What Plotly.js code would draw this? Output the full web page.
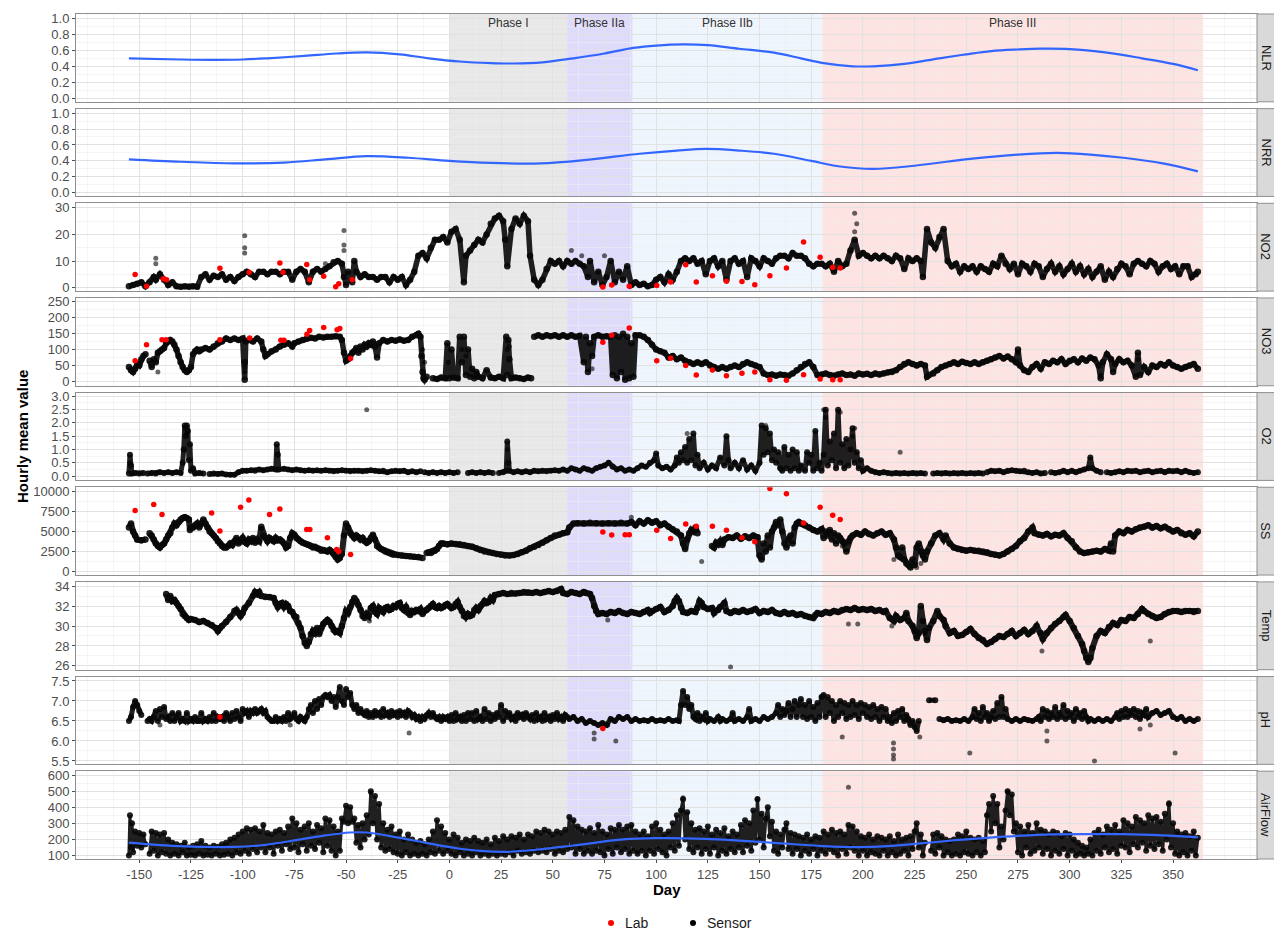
<!DOCTYPE html>
<html>
<head>
<meta charset="utf-8">
<script src="https://cdn.plot.ly/plotly-3.0.1.min.js"></script>
<style>html,body{margin:0;padding:0;background:#fff;}#chart{width:1274px;height:934px;}</style>
</head>
<body>
<div id="chart"></div>
<script>
// ---------------- DATA ----------------
const panelNames = ['NLR','NRR','NO2','NO3','O2','SS','Temp','pH','AirFlow'];
const dayTicks = [-150,-125,-100,-75,-50,-25,0,25,50,75,100,125,150,175,200,225,250,275,300,325,350];
const dayTickLabels = ['-150','-125','-100','-75','-50','-25','0','25','50','75','100','125','150','175','200','225','250','275','300','325','350'];
const phaseNames = ['Phase I','Phase IIa','Phase IIb','Phase III'];
const phaseStart = [0,57,88.5,180.5];
const phaseEnd = [57,88.5,180.5,364.5];
const legendNames = ['Lab','Sensor'];

const nlrSmooth = [[-155,0.50],[-130,0.485],[-114,0.48],[-100,0.485],[-88,0.50],[-70,0.53],[-55,0.56],[-40,0.575],[-24,0.55],[-10,0.50],[5,0.46],[20,0.44],[31,0.435],[45,0.45],[60,0.50],[75,0.56],[89,0.63],[100,0.66],[113,0.675],[125,0.665],[140,0.62],[157,0.57],[170,0.50],[181,0.44],[195,0.40],[205,0.40],[220,0.43],[237,0.50],[250,0.55],[262,0.59],[275,0.61],[286,0.62],[300,0.615],[318,0.57],[335,0.50],[350,0.43],[362,0.35]];

const nrrSmooth = [[-155,0.42],[-130,0.39],[-104,0.37],[-80,0.38],[-60,0.42],[-40,0.46],[-20,0.44],[0,0.40],[20,0.375],[44,0.37],[65,0.41],[92,0.49],[110,0.53],[124,0.55],[140,0.53],[157,0.49],[175,0.40],[189,0.33],[205,0.30],[225,0.34],[253,0.43],[275,0.48],[294,0.50],[310,0.48],[326,0.44],[345,0.37],[362,0.27]];

const no2Sensor = [[-155,0.5],[-153,1],[-151,1.5],[-149,2],[-147,0.5],[-145,2],[-143,4],[-142,3],[-140,5],[-138,3],[-136,1],[-134,2],[-132,0.5],[-130,0.3],[-128,0.5],[-126,0.3],[-124,0.5],[-122,0.3],[-120,4],[-118,5],[-116,3],[-114,4.5],[-112,4],[-110,5],[-108,3],[-106,4],[-104,2.5],[-102,4],[-100,5],[-98,6],[-96,5],[-94,4],[-92,6],[-90,6],[-88,5],[-86,6],[-84,6],[-82,5],[-80,6],[-78,6],[-76,3],[-74,6],[-72,7],[-70,6],[-68,2],[-66,6],[-64,7],[-62,6],[-60,7],[-58,8],[-56,9.5],[-54,10],[-52,9],[-51,4],[-50,1],[-49,6],[-47,2],[-46,10],[-45,6],[-43,4],[-41,5],[-39,4],[-37,4],[-35,3],[-33,4],[-31,4],[-29,2],[-27,4],[-25,3],[-23,4],[-21,1],[-19,3],[-17,6],[-15,12],[-13,13],[-11,11],[-9,15],[-7,18],[-5,18],[-3,19],[-1,17],[1,21],[3,22],[5,18],[7,2],[8,12],[10,14],[12,16],[14,18],[16,17],[18,20],[20,24],[22,26],[24,27],[26,25],[27,18],[28,8],[30,22],[32,26],[34,24],[36,27],[38,25],[39,12],[41,3],[43,1],[45,3],[47,7],[49,10],[51,9],[53,10],[55,8],[57,10],[59,9],[61,10],[63,9],[65,8],[67,4],[68,10],[70,2],[72,6],[74,1],[76,4],[78,10],[80,2],[82,6],[84,3],[86,8],[88,1],[90,2],[92,1],[94,1.5],[96,0.5],[98,1],[100,3],[102,4],[104,2],[106,5],[108,3],[110,6],[112,10],[114,11],[116,10],[118,11],[120,9],[122,10],[124,5],[126,10],[128,11],[130,8],[132,10],[134,3],[136,10],[138,11],[140,9],[142,10],[144,4],[146,11],[148,10],[150,8],[152,11],[154,10],[156,9],[158,11],[160,12],[162,12],[164,11],[166,13],[168,12],[170,12],[172,11],[174,9],[176,8],[178,9],[180,9],[182,8],[184,9],[186,6],[188,10],[190,8],[192,9],[194,14],[196,18],[198,12],[200,13],[202,12],[204,11],[206,12],[208,11],[210,12],[212,11],[214,10],[216,12],[218,11],[220,7],[222,11],[224,10],[226,11],[228,10],[229,4],[231,22],[233,17],[235,15],[237,19],[239,22],[241,10],[243,8],[245,9],[247,6],[249,8],[251,7],[253,8],[255,6],[257,8],[259,7],[261,6],[263,9],[265,8],[267,12],[269,9],[271,7],[273,9],[275,5],[277,9],[279,8],[281,6],[283,9],[285,8],[287,4],[289,7],[291,9],[293,6],[295,8],[297,5],[299,7],[301,9],[303,6],[305,8],[307,5],[309,7],[311,4],[313,6],[315,8],[317,3],[319,6],[321,4],[323,7],[325,9],[327,8],[329,5],[331,9],[333,10],[335,9],[337,8],[339,10],[341,9],[343,6],[345,8],[347,9],[349,7],[351,8],[353,5],[355,8],[357,8],[359,4],[361,5],[362,6]];
const no2Outliers = [[-142,11],[-142,9],[-99,19.5],[-99,15],[-99,13],[-51,21.5],[-51,16],[-51,14],[-60,9],[59,14],[64,12],[75,12],[196,28],[197,24],[196,21]];
const no2Lab = [[-152,4.9],[-146.5,0.5],[-138.4,3.3],[-136.8,3],[-111,7.3],[-96.8,5.8],[-82,9.3],[-80.5,5.8],[-69,8.7],[-67.6,3],[-60.8,4.3],[-55,0.3],[-53.5,1.5],[-47,3],[74.2,0.2],[78.5,1],[87,0.5],[100.3,0.8],[107,2.1],[114.3,8.6],[119.4,2.1],[127.2,4.5],[134,2.4],[141.5,2.3],[147.7,1.1],[155,4.5],[163,7.4],[171.3,17.2],[179.3,11.4],[185.4,7.7],[189,7.4]];

const no3Sensor = [[-155,45],[-154,35],[-153,30],[-152,40],[-151,55],[-150,50],[-149,70],[-148,80],[-147,85],[-146,null],[-145,65],[-144,45],[-143,70],[-142,60],[-141,90],[-140,95],[-139,100],[-138,105],[-137,120],[-136,125],[-135,130],[-134,125],[-133,115],[-132,100],[-131,80],[-130,60],[-129,45],[-128,35],[-127,30],[-126,35],[-125,45],[-124,85],[-123,95],[-122,100],[-121,95],[-120,100],[-118,105],[-116,100],[-114,110],[-112,120],[-110,125],[-108,135],[-106,130],[-104,135],[-102,130],[-100,135],[-99,5],[-99,60],[-98.5,125],[-97,130],[-95,125],[-93,135],[-91,125],[-90,100],[-89,80],[-88,85],[-86,95],[-84,100],[-82,110],[-80,115],[-78,120],[-76,110],[-75,120],[-73,125],[-71,130],[-69,135],[-67,137],[-65,135],[-63,140],[-61,138],[-59,140],[-57,140],[-55,142],[-53,140],[-52,130],[-51,90],[-50,65],[-49,70],[-48,80],[-47,90],[-46,95],[-45,105],[-44,90],[-43,110],[-42,100],[-41,115],[-40,110],[-39,120],[-38,115],[-37,125],[-36,110],[-35,75],[-34,120],[-32,130],[-30,125],[-28,130],[-26,128],[-24,132],[-22,128],[-20,130],[-18,140],[-16,145],[-15,150],[-14,140],[-13.5,80],[-13,30],[-12.5,10],[-12,5],[-11,15],[-10,null],[-8,10],[-6,8],[-4,12],[-2,10],[-1,120],[0,10],[1,100],[2,12],[4,10],[5,140],[6,60],[7,140],[8,20],[9,100],[10,15],[11,40],[12,10],[13,30],[14,15],[16,10],[18,35],[20,12],[22,10],[24,15],[26,10],[27.5,140],[28,20],[28.5,130],[29,70],[30,10],[32,12],[34,10],[36,8],[38,12],[39.5,10],[40,null],[41,140],[43,145],[45,140],[47,145],[49,142],[51,145],[53,140],[55,145],[57,140],[59,145],[61,140],[63,143],[65,60],[66,140],[67,30],[68,120],[69,80],[70,140],[72,145],[74,140],[76,142],[78,140],[79,20],[80,145],[81,10],[82,140],[83,30],[84,150],[85,5],[86,140],[87,10],[88,120],[89,15],[90,145],[92,145],[94,140],[96,130],[98,115],[100,100],[102,95],[104,90],[106,75],[108,80],[110,70],[112,75],[114,65],[116,60],[118,55],[120,60],[122,55],[124,60],[126,50],[128,45],[130,40],[132,45],[134,40],[136,45],[138,50],[140,45],[142,55],[144,60],[146,55],[148,50],[150,45],[152,25],[154,20],[156,22],[158,18],[160,22],[162,20],[164,18],[166,25],[168,35],[170,45],[172,55],[174,60],[176,45],[178,20],[180,22],[182,25],[184,20],[186,18],[188,22],[190,25],[192,20],[194,22],[196,18],[198,25],[200,22],[202,24],[204,20],[206,25],[208,22],[210,25],[212,28],[214,30],[216,35],[218,45],[220,55],[222,60],[224,55],[226,50],[228,55],[230,50],[231,15],[232,20],[234,25],[236,35],[238,45],[240,50],[242,55],[244,60],[246,55],[248,62],[250,58],[252,55],[254,60],[256,55],[258,60],[260,65],[262,70],[264,75],[266,80],[268,72],[270,78],[272,70],[274,60],[275,100],[276,50],[278,35],[280,30],[282,45],[284,55],[286,40],[288,60],[290,55],[292,65],[294,60],[296,70],[298,55],[300,65],[302,70],[304,60],[306,72],[308,65],[310,75],[312,70],[314,50],[315,10],[316,60],[318,85],[320,70],[321,30],[322,55],[324,70],[326,60],[328,65],[330,50],[332,15],[333,90],[334,20],[336,45],[338,30],[340,50],[342,45],[344,55],[346,50],[348,60],[350,50],[352,45],[354,40],[356,45],[358,50],[360,55],[362,40]];
const no3Outliers = [[-99,30],[-99,45],[-141,30],[-0.5,60],[28,100],[69,40],[275,90],[315,20],[333,70],[6,100],[8,80],[29,110],[-13,100],[-12,60]];
const no3Lab = [[-152,65],[-146.5,115],[-139,131],[-137,131],[-111,131],[-96.6,136],[-81.5,129],[-80,129],[-68.9,148],[-67.6,160],[-60.8,169],[-54.3,162],[-53,166],[-47.8,72],[74.2,123],[78.5,145],[87,168],[100.3,65],[107,73],[114.3,50],[119.4,20],[127.2,36],[134,18],[141.5,26],[147.7,30],[155,5],[163,4],[171.3,21],[179.3,8],[185.4,5],[189,5]];

const o2Sensor = [[-155,0.1],[-154.5,0.8],[-154,0.4],[-153.5,0.1],[-152,0.12],[-150,0.1],[-148,0.12],[-147,null],[-146,0.1],[-144,0.12],[-142,0.1],[-140,0.15],[-138,0.12],[-136,0.15],[-134,0.12],[-132,0.15],[-130,0.12],[-129,0.5],[-128.5,1.0],[-128,1.9],[-127.5,1.5],[-127,1.9],[-126.5,1.7],[-126,0.6],[-125.5,1.2],[-125,0.2],[-124,0.3],[-123,0.1],[-121,0.12],[-119,0.1],[-118,null],[-116,0.08],[-114,0.1],[-112,0.08],[-110,0.1],[-108,0.06],[-106,0.05],[-104,0.05],[-102,0.15],[-100,0.2],[-98,0.2],[-96,0.22],[-94,0.2],[-92,0.25],[-90,0.22],[-88,0.25],[-86,0.28],[-84,0.25],[-83.5,1.2],[-83,0.8],[-82.5,0.25],[-80,0.28],[-78,0.25],[-76,0.22],[-74,0.25],[-72,0.22],[-70,0.2],[-68,0.22],[-66,0.2],[-64,0.22],[-62,0.2],[-60,0.22],[-58,0.2],[-56,0.18],[-54,0.2],[-52,0.22],[-50,0.2],[-48,0.18],[-46,0.2],[-44,0.2],[-42,0.18],[-40,0.2],[-38,0.22],[-36,0.2],[-34,0.18],[-32,0.2],[-30,0.15],[-28,0.18],[-26,0.2],[-24,0.18],[-22,0.2],[-20,0.15],[-18,0.18],[-16,0.15],[-14,0.18],[-13,null],[-12,0.15],[-10,0.12],[-8,0.15],[-6,0.12],[-4,0.15],[-2,0.12],[0,0.15],[2,0.12],[4,0.15],[5,null],[9,0.12],[11,0.15],[13,0.12],[15,0.15],[17,0.12],[19,0.15],[21,0.12],[22,null],[24,0.12],[26,0.15],[27.5,0.2],[28,1.3],[28.5,0.5],[29,0.2],[31,0.15],[33,0.18],[35,0.15],[37,0.18],[39,0.15],[41,0.2],[43,0.18],[45,0.2],[47,0.18],[49,0.2],[51,0.22],[53,0.2],[55,0.25],[57,0.2],[59,0.3],[61,0.25],[63,0.2],[65,0.3],[67,0.25],[69,0.2],[71,0.3],[73,0.35],[75,0.4],[77,0.5],[79,0.35],[81,0.25],[83,0.3],[85,0.2],[87,0.25],[89,0.2],[91,0.3],[93,0.4],[95,0.35],[97,0.5],[99,0.6],[100,0.85],[101,0.4],[103,0.3],[105,0.35],[107,0.25],[109,0.4],[110,0.7],[111,0.5],[112,0.9],[113,0.6],[114,1.1],[115,0.5],[116,1.4],[117,0.6],[118,1.6],[119,0.4],[120,0.8],[121,0.3],[123,0.5],[125,0.25],[127,0.4],[129,0.3],[131,0.7],[133,0.4],[134,1.5],[135,0.6],[136,0.3],[138,0.5],[140,0.3],[142,0.6],[144,0.25],[146,0.4],[148,0.2],[150,0.5],[151,1.9],[152,0.8],[153,1.8],[154,0.9],[155,1.6],[156,0.6],[157,1.0],[158,0.5],[159,0.9],[160,0.3],[161,0.2],[162,1.1],[163,0.3],[164,0.8],[165,0.2],[166,1.0],[167,0.3],[168,0.9],[169,0.2],[170,0.4],[172,0.2],[173,0.9],[174,0.5],[175,0.8],[176,0.2],[177,1.7],[178,0.3],[179,0.5],[180,0.2],[181,0.8],[182,2.5],[183,0.4],[184,1.3],[185,0.6],[186,1.6],[187,0.3],[188,2.5],[189,0.5],[190,1.2],[191,0.3],[192,1.4],[193,0.4],[194,1.0],[195,1.8],[196,0.5],[197,0.9],[198,0.3],[199,0.6],[200,0.2],[202,0.3],[204,0.2],[206,0.15],[208,0.12],[210,0.15],[212,0.12],[214,0.1],[216,0.12],[218,0.1],[220,0.12],[222,0.1],[224,0.12],[226,0.1],[228,0.12],[230,0.1],[231,null],[234,0.1],[236,0.12],[238,0.1],[240,0.12],[242,0.1],[244,0.12],[246,0.1],[248,0.12],[250,0.1],[252,0.12],[254,0.1],[256,0.12],[258,0.1],[259,null],[260,0.15],[262,0.2],[264,0.18],[266,0.2],[268,0.15],[270,0.2],[272,0.22],[274,0.2],[276,0.18],[278,0.2],[280,0.15],[282,0.12],[284,0.15],[286,0.1],[288,0.12],[289,null],[291,0.15],[293,0.12],[295,0.15],[297,0.2],[299,0.15],[301,0.2],[303,0.15],[305,0.2],[307,0.25],[309,0.3],[310,0.7],[311,0.3],[313,0.2],[315,0.15],[316,null],[318,0.15],[320,0.12],[322,0.15],[324,0.18],[326,0.15],[328,0.2],[330,0.18],[332,0.2],[334,0.15],[336,0.18],[338,0.2],[340,0.15],[342,0.18],[344,0.2],[346,0.15],[348,0.2],[350,0.18],[352,0.2],[354,0.15],[356,0.2],[358,0.15],[360,0.12],[362,0.15]];
const o2Outliers = [[-40,2.5],[28,1.0],[-128,1.8],[-127,1.6],[218,0.9],[181,2.5],[182,2.2],[196,1.8],[195,1.5],[115,1.6],[153,1.9],[189,2.4],[-154.5,0.5]];

const ssSensor = [[-155,5500],[-154,6000],[-153,5000],[-152,4500],[-151,4000],[-149,3900],[-147,4000],[-146,null],[-145,4800],[-144,4500],[-143,4000],[-142,3500],[-141,3200],[-140,3000],[-139,3300],[-138,3500],[-137,4000],[-136,4500],[-135,4800],[-134,5500],[-133,6000],[-132,5800],[-131,6200],[-130,6500],[-129,6700],[-128,6800],[-127,6700],[-126,6500],[-125.5,5200],[-125,5500],[-124,5500],[-123,5800],[-122,6000],[-121,5500],[-120,6000],[-119,6500],[-118,6000],[-117,5500],[-116,5000],[-115,4800],[-114,4500],[-113,4200],[-112,3800],[-111,3500],[-110,3200],[-109,3000],[-108,3000],[-107,3200],[-106,3500],[-105,3300],[-104,3800],[-103,4200],[-102,3500],[-101,3800],[-100,4200],[-99,3700],[-98,3500],[-97,4000],[-96,3800],[-95,4200],[-94,3600],[-93,4000],[-92,3800],[-91,5600],[-90,4500],[-89,4200],[-88,3800],[-87,4200],[-86,4000],[-85,3800],[-84,4200],[-83,3900],[-82,4000],[-81,3800],[-80,3500],[-79,3000],[-78,3200],[-77,4200],[-76,4800],[-75,4600],[-74,4200],[-73,4000],[-72,3800],[-71,3600],[-70,3500],[-69,3400],[-68,3300],[-67,3200],[-66,3000],[-65,3100],[-64,2900],[-63,2800],[-62,2600],[-61,2700],[-60,2600],[-59,2500],[-58,2700],[-57,2500],[-56,2200],[-55,1800],[-54,1500],[-53,1700],[-52,2200],[-51,4500],[-50,6000],[-49,5500],[-48,4800],[-47,4500],[-46,4200],[-45,4500],[-44,4300],[-43,4000],[-42,4200],[-41,3800],[-40,3600],[-39,3800],[-38,4200],[-37,4600],[-36,4000],[-35,3200],[-34,3000],[-33,2800],[-32,2700],[-31,2500],[-30,2400],[-29,2300],[-28,2200],[-27,2100],[-25,2050],[-23,2000],[-21,1950],[-19,1900],[-17,1850],[-15,1800],[-13,1700],[-12,null],[-11,2300],[-10,2400],[-9,2300],[-8,2500],[-7,2600],[-6,2800],[-5,3200],[-4,3500],[-3,3500],[-1,3400],[1,3500],[3,3450],[5,3400],[7,3300],[9,3200],[11,3100],[13,2900],[15,2700],[17,2500],[19,2400],[21,2300],[23,2200],[25,2100],[27,2000],[29,2000],[31,2050],[33,2200],[35,2400],[37,2600],[39,2900],[41,3100],[43,3300],[45,3600],[47,3900],[49,4200],[51,4500],[53,4600],[55,4800],[57,4900],[58,5500],[60,6000],[62,6050],[65,6000],[68,6100],[71,6050],[74,6000],[77,6050],[80,6000],[83,6100],[86,6000],[88,6200],[90,5800],[92,6300],[94,6000],[96,6400],[98,6100],[100,6300],[102,5800],[104,6000],[106,5600],[108,5300],[110,5000],[112,4500],[113,3500],[114,2800],[115,4000],[116,4800],[117,5200],[118,5000],[119,5500],[120,4800],[121,null],[127,3200],[128,3000],[129,3600],[130,3400],[131,3800],[132,3300],[133,4000],[135,4300],[137,4200],[139,4500],[141,4100],[143,4400],[145,4200],[147,4500],[149,4300],[150,2000],[151,1500],[152,3500],[153,2500],[154,4500],[155,3000],[156,5000],[157,5500],[158,6200],[159,5800],[160,6500],[161,5000],[162,3500],[163,3000],[164,4000],[165,4500],[166,3500],[167,5500],[168,6000],[169,6200],[170,6000],[172,5800],[174,5500],[176,5200],[178,5000],[180,5300],[181,4200],[182,5000],[183,4500],[184,5200],[185,4000],[186,4800],[187,3500],[188,4500],[189,4200],[190,3800],[191,3500],[192,2500],[193,3800],[194,4200],[195,4500],[197,4800],[199,4600],[201,5000],[203,4700],[205,4500],[207,4800],[209,5000],[211,4600],[213,4800],[215,4000],[216,3000],[217,2000],[218,1800],[219,3000],[220,1500],[221,1000],[222,800],[223,500],[224,1500],[225,800],[226,3000],[227,3500],[228,2500],[229,2000],[230,1500],[231,2500],[233,3500],[235,4500],[237,4800],[239,4000],[240,4500],[242,3500],[244,3000],[246,2800],[248,2700],[250,2600],[252,2700],[254,2600],[256,2600],[258,2500],[260,2400],[262,2200],[264,2100],[266,2000],[268,2200],[270,2500],[272,2800],[274,3200],[276,3800],[278,4200],[280,5000],[282,5500],[283,4800],[285,4600],[287,4500],[289,4700],[291,4400],[293,4600],[295,4500],[297,4800],[299,4200],[301,3800],[303,3000],[305,2500],[307,2300],[309,2400],[311,2500],[313,2600],[315,2500],[317,2800],[319,2600],[320,3500],[321,2500],[322,4500],[324,5000],[326,4800],[328,5200],[330,5000],[332,5300],[334,5500],[336,5600],[338,5800],[340,5500],[342,5700],[344,5400],[346,5600],[348,5300],[350,5000],[352,5200],[354,4800],[356,4600],[358,4800],[360,4400],[362,5000]];
const ssOutliers = [[122,1250],[215,1500],[226,500],[228,1000],[190,3200],[88,6800],[-91,5300]];
const ssLab = [[-152,7625],[-143,8375],[-139,7125],[-115,7333],[-111,5083],[-101,8042],[-97,8958],[-87,7125],[-82,7833],[-69,5250],[-67.5,5250],[-59,4208],[-54.5,2750],[-53.5,2500],[-47.8,2125],[74.2,4958],[78.5,4583],[85,4600],[87,4600],[100.3,5167],[107,4125],[114.3,5958],[119.4,5667],[127.2,5667],[134,5167],[141.5,4208],[147.7,3708],[155,10400],[163,9750],[171.3,6083],[179.3,8042],[185.4,7042],[189,6500]];

const tempSensor = [[-137,33.2],[-136,32.6],[-135,33],[-134,32.5],[-133,32.6],[-132,32.3],[-131,32],[-130,31.7],[-129,31.2],[-128,31],[-127,30.8],[-126,30.6],[-125,30.7],[-123,30.6],[-121,30.4],[-119,30.5],[-117,30.3],[-115,30.1],[-113,29.8],[-112,29.5],[-111,29.8],[-110,30],[-108,30.4],[-106,30.9],[-104,31.5],[-103,31.6],[-102,31.3],[-101,31],[-100,31.3],[-99,31.8],[-97,32.3],[-95,33],[-94,33.4],[-93,33.2],[-92,33.4],[-91,33],[-89,32.9],[-87,32.9],[-85,32.8],[-84,32.3],[-83,31.9],[-82,32.2],[-81,32.3],[-80,31.9],[-79,32.2],[-78,32],[-77,31.5],[-76,31.4],[-75,31],[-74,30.9],[-73,30.3],[-72,29.8],[-71,29],[-70,28.3],[-69,28],[-68,28.4],[-67,29.2],[-66,29.5],[-65,29.3],[-64,29.8],[-63,29.2],[-62,29.8],[-61,30.2],[-60,30.4],[-59,30.6],[-58,30.4],[-57,30],[-56,29.6],[-55,29.4],[-54,29.5],[-53,29.3],[-52,30],[-51,30.8],[-50,31.5],[-49,31.3],[-48,31.9],[-47,32.4],[-46,32.8],[-45,32.5],[-44,32.1],[-43,31.6],[-42,31],[-41,30.8],[-40,31.2],[-39,31],[-38,31.8],[-37,32],[-36,31.4],[-35,31.2],[-34,31.8],[-33,31.6],[-32,31.4],[-31,31.8],[-30,31.9],[-29,31.6],[-28,31.7],[-27,32],[-26,31.9],[-25,32.2],[-24,32.3],[-23,31.8],[-22,31.6],[-21,31.9],[-20,31.3],[-19,31.1],[-18,31.5],[-17,31.4],[-16,31.6],[-15,31.5],[-14,31.7],[-13,31.2],[-12,31.5],[-11,31.6],[-10,31.8],[-9,32],[-8,32.2],[-7,31.9],[-6,31.8],[-5,32],[-4,31.8],[-3,31.9],[-2,32.1],[-1,32.2],[0,32],[1,31.8],[2,31.9],[3,32.2],[4,32.4],[5,31.9],[6,31.5],[7,31],[8,30.9],[9,31.2],[10,31],[11,31.1],[12,31.6],[13,31.8],[14,31.6],[15,32],[16,32.2],[17,32.5],[18,32.3],[19,32.4],[20,32.8],[21,32.6],[22,33.1],[24,33.2],[26,33.3],[28,33.2],[30,33.3],[32,33.25],[34,33.3],[36,33.4],[38,33.35],[40,33.3],[42,33.4],[44,33.3],[46,33.4],[48,33.5],[50,33.4],[52,33.5],[54,33.7],[55,33.3],[57,33.2],[59,33.4],[61,33.3],[63,33.2],[65,33.4],[66,33.3],[68,33.2],[69,32.8],[70,32],[71,31.5],[72,31.2],[74,31.3],[76,31.2],[78,31.4],[80,31.3],[82,31.5],[84,31.3],[86,31.2],[88,31.4],[90,31.3],[92,31.2],[94,31.4],[96,31.6],[97,31.3],[98,31.5],[100,31.7],[102,31.9],[104,31.4],[106,31.6],[108,32],[109,32.5],[110,32.8],[111,32.5],[112,31.8],[113,31.4],[115,31.3],[117,31.5],[119,31.4],[120,31.8],[121,32.5],[122,32.3],[123,31.9],[125,31.7],[127,31.8],[128,31.3],[130,31.6],[131,31.9],[133,32.3],[134,31.5],[136,31.3],[138,31.5],[140,31.4],[142,31.6],[144,31.4],[146,31.5],[148,31.7],[150,31.3],[152,31.5],[154,31.4],[156,31.6],[158,31.3],[160,31.2],[162,31.4],[164,31.2],[166,31.3],[168,31.1],[170,31.2],[172,31],[174,30.9],[176,30.8],[177,31.1],[178,31.3],[180,31.2],[182,31.4],[184,31.3],[186,31.5],[188,31.4],[190,31.6],[192,31.7],[194,31.6],[196,31.8],[198,31.6],[200,31.7],[202,31.6],[204,31.7],[206,31.5],[208,31.6],[210,31.4],[211,31.5],[213,30.8],[215,30.5],[216,31],[218,30.6],[220,30.8],[221,31.3],[222,30.5],[224,30],[225,29.5],[226,28.8],[227,29.3],[228,32],[229,30.5],[230,29.5],[231,28.6],[232,29.8],[234,30.5],[236,31.5],[237,31],[239,30.6],[240,30],[242,29.3],[244,29.5],[246,29],[248,29.1],[250,29.4],[252,29.7],[254,29.2],[256,28.8],[258,28.6],[260,28.2],[262,28.4],[264,28.7],[266,29],[268,28.9],[270,29.2],[272,29.5],[274,29],[276,29.3],[278,29.6],[280,29.2],[282,29.5],[284,30],[286,29.3],[287,28.7],[289,29.3],[291,29.8],[293,30.2],[295,30.5],[297,30.9],[298,31.1],[300,30.5],[302,29.8],[304,29],[306,28.2],[307,27.5],[308,26.8],[309,26.4],[310,26.8],[311,27.8],[313,29],[315,29.5],[317,29.3],[319,29.9],[321,30.3],[323,30.1],[325,30.6],[327,30.5],[329,30.9],[331,30.8],[333,31.2],[335,31.7],[336,31.5],[338,31.2],[340,31],[342,30.8],[344,30.9],[346,31.2],[348,31.4],[350,31.5],[352,31.5],[354,31.4],[356,31.5],[358,31.5],[360,31.4],[362,31.5]];
const tempOutliers = [[-38.7,30.5],[76.6,30.6],[136,25.9],[193,30.2],[197.5,30.2],[286.6,27.5],[339,28.5],[214,30],[230,29.2]];

const phSensor = [[-155,6.5],[-154,6.6],[-153,6.85],[-152,7.0],[-151,6.9],[-150,6.75],[-149,6.65],[-148,null],[-146,6.5],[-145,6.55],[-144,6.5],[-143,6.6],[-142,6.75],[-141,6.5],[-140,6.8],[-139,6.6],[-138,6.85],[-137,6.55],[-136,6.6],[-135,6.5],[-134,6.7],[-133,6.5],[-132,6.6],[-131,6.7],[-130,6.5],[-129,6.55],[-128,6.5],[-127,6.7],[-126,6.5],[-125,6.55],[-124,6.5],[-123,6.6],[-122,6.5],[-121,6.5],[-120,6.7],[-119,6.5],[-118,6.55],[-117,6.5],[-116,6.6],[-115,6.5],[-114,6.7],[-113,6.5],[-112,6.6],[-111,6.55],[-110,6.6],[-109,6.5],[-108,6.7],[-107,6.6],[-106,6.5],[-105,6.7],[-104,6.55],[-103,6.75],[-102,6.6],[-101,6.5],[-100,6.8],[-99,6.7],[-98,6.75],[-97,6.6],[-96,6.75],[-95,6.7],[-94,6.8],[-93,6.7],[-92,6.75],[-91,6.8],[-90,6.7],[-89,6.75],[-88,6.6],[-87,6.55],[-86,6.5],[-85,6.5],[-84,6.6],[-83,6.5],[-82,6.55],[-81,6.5],[-80,6.6],[-79,6.5],[-78,6.7],[-77,6.55],[-76,6.6],[-75,6.7],[-74,6.55],[-73,6.5],[-72,6.6],[-71,6.55],[-70,6.5],[-69,6.6],[-68,6.8],[-67,6.9],[-66,6.7],[-65,7.0],[-64,6.8],[-63,7.05],[-62,6.9],[-61,7.1],[-60,7.15],[-59,7.1],[-58,7.15],[-57,7.0],[-56,7.1],[-55,6.85],[-54,7.1],[-53,7.35],[-52,7.0],[-51,6.9],[-50,7.3],[-49,7.1],[-48,7.2],[-47,6.9],[-46,6.8],[-45,6.9],[-44,6.7],[-43,6.8],[-42,6.7],[-41,6.65],[-40,6.75],[-39,6.6],[-38,6.7],[-37,6.6],[-36,6.75],[-35,6.65],[-34,6.7],[-33,6.6],[-32,6.8],[-31,6.65],[-30,6.7],[-29,6.6],[-28,6.75],[-27,6.65],[-26,6.7],[-25,6.6],[-24,6.75],[-23,6.65],[-22,6.7],[-21,6.6],[-20,6.75],[-19,6.7],[-18,6.6],[-17,6.65],[-16,6.55],[-15,6.6],[-14,6.5],[-13,6.6],[-12,6.55],[-11,6.65],[-10,6.7],[-9,6.6],[-8,6.7],[-7,6.6],[-6,6.55],[-5,6.6],[-4,6.5],[-3,6.6],[-2,6.55],[-1,6.6],[0,6.5],[1,6.65],[2,6.5],[3,6.7],[4,6.55],[5,6.6],[6,6.5],[7,6.65],[8,6.5],[9,6.7],[10,6.55],[11,6.7],[12,6.5],[13,6.75],[14,6.55],[15,6.6],[16,6.5],[17,6.8],[18,6.55],[19,6.7],[20,6.5],[21,6.65],[22,6.55],[23,6.7],[24,6.6],[25,6.9],[26,6.5],[27,6.75],[28,6.6],[29,6.7],[30,6.55],[31,6.6],[32,6.5],[33,6.7],[34,6.6],[35,6.65],[36,6.55],[37,6.7],[38,6.6],[39,6.55],[40,6.65],[41,6.5],[42,6.7],[43,6.55],[44,6.6],[45,6.5],[46,6.7],[47,6.55],[48,6.6],[49,6.5],[50,6.65],[51,6.55],[52,6.7],[53,6.55],[54,6.6],[55,6.5],[56,6.65],[57,6.6],[58,6.55],[60,6.6],[62,6.5],[64,6.55],[66,6.45],[68,6.5],[70,6.45],[72,6.4],[74,6.45],[76,6.4],[78,6.55],[80,6.5],[82,6.6],[84,6.55],[86,6.6],[88,6.5],[90,6.55],[92,6.5],[94,6.52],[96,6.5],[98,6.55],[100,6.5],[102,6.52],[104,6.5],[106,6.55],[108,6.5],[110,6.52],[111,6.5],[112,6.9],[113,7.25],[114,6.9],[115,7.1],[116,6.8],[117,6.9],[118,6.6],[119,6.55],[120,6.7],[121,6.5],[122,6.6],[123,6.55],[124,6.7],[125,6.5],[126,6.55],[128,6.5],[130,6.6],[131,6.5],[132,6.55],[134,6.5],[136,6.55],[137,6.7],[138,6.5],[140,6.55],[142,6.5],[144,6.6],[145,6.8],[146,6.5],[148,6.55],[150,6.5],[152,6.6],[154,6.55],[156,6.6],[158,6.7],[159,6.9],[160,6.6],[161,6.8],[162,6.65],[163,6.75],[164,6.95],[165,6.6],[166,6.8],[167,7.0],[168,6.6],[169,6.9],[170,7.05],[171,6.6],[172,6.9],[173,6.55],[174,7.0],[175,6.6],[176,6.85],[177,6.5],[178,6.95],[179,6.6],[180,7.1],[181,7.15],[182,6.6],[183,7.1],[184,6.7],[185,7.0],[186,6.5],[187,6.9],[188,6.6],[189,7.0],[190,6.7],[191,6.95],[192,6.55],[193,6.9],[194,6.6],[195,7.0],[196,6.65],[197,6.9],[198,6.55],[199,6.95],[200,6.7],[201,6.9],[202,6.6],[203,6.85],[204,6.55],[205,6.9],[206,6.6],[207,6.8],[208,6.5],[209,6.85],[210,6.6],[211,6.8],[212,6.5],[213,6.6],[214,6.45],[215,6.7],[216,6.5],[217,6.75],[218,6.6],[219,6.8],[220,6.5],[221,6.65],[222,6.55],[223,6.4],[224,6.5],[225,6.35],[226,6.25],[227,6.5],[228,null],[232,7.02],[235,7.02],[236,null],[237,6.55],[239,6.52],[241,6.55],[243,6.5],[245,6.52],[247,6.5],[249,6.55],[251,6.5],[253,6.6],[254,6.8],[255,6.55],[256,6.7],[257,6.5],[258,6.85],[259,6.6],[260,6.7],[261,6.5],[262,6.6],[263,6.75],[264,6.55],[265,6.95],[266,6.6],[267,7.1],[268,6.6],[269,6.8],[270,6.55],[272,6.5],[274,6.55],[276,6.5],[278,6.55],[280,6.52],[282,6.5],[284,6.55],[285,6.6],[286,6.5],[287,6.8],[288,6.6],[289,6.75],[290,6.55],[291,6.7],[292,6.6],[293,6.85],[294,6.55],[295,6.7],[296,6.6],[297,6.9],[298,6.55],[299,6.75],[300,6.6],[301,6.7],[302,6.5],[303,6.8],[304,6.6],[305,6.7],[306,6.55],[307,6.75],[308,6.6],[309,6.5],[310,6.55],[312,6.5],[314,6.55],[316,6.5],[318,6.55],[320,6.5],[322,6.6],[323,6.7],[324,6.55],[325,6.75],[326,6.6],[327,6.8],[328,6.6],[329,6.75],[330,6.65],[331,6.8],[332,6.6],[333,6.75],[334,6.55],[335,6.7],[336,6.65],[337,6.8],[338,6.6],[340,6.7],[342,6.75],[344,6.65],[346,6.7],[348,6.75],[350,6.6],[352,6.55],[354,6.6],[356,6.5],[358,6.55],[360,6.5],[362,6.55]];
const phOutliers = [[-140,6.4],[-19.5,6.2],[-77,6.4],[70,6.2],[70,6.05],[80.5,6.0],[76.6,6.4],[214.8,5.95],[214.8,5.8],[214.8,5.65],[214.8,5.55],[227.5,6.1],[251.7,5.7],[289,6.25],[289,6.0],[312,5.5],[334,6.3],[339,6.4],[351,5.7],[190,6.1]];
const phLab = [[-111,6.6],[74.2,6.31]];

const airSensor = [[-155,100],[-154.5,350],[-154,150],[-153.5,300],[-153,120],[-152,250],[-151,160],[-150,240],[-149,150],[-148,230],[-147,170],[-146,null],[-145,110],[-144,250],[-143,130],[-142,240],[-141,100],[-140,230],[-139,120],[-138,240],[-137,110],[-136,200],[-135,100],[-134,180],[-133,110],[-132,170],[-131,100],[-130,160],[-129,120],[-128,180],[-127,100],[-126,150],[-125,105],[-124,160],[-123,100],[-122,170],[-121,110],[-120,190],[-119,100],[-118,160],[-117,105],[-116,150],[-115,100],[-114,160],[-113,110],[-112,155],[-111,100],[-110,170],[-109,105],[-108,180],[-107,110],[-106,200],[-105,100],[-104,210],[-103,120],[-102,230],[-101,110],[-100,250],[-99,130],[-98,270],[-97,110],[-96,260],[-95,140],[-94,270],[-93,120],[-92,250],[-91,150],[-90,290],[-89,120],[-88,240],[-87,150],[-86,230],[-85,110],[-84,250],[-83,160],[-82,260],[-81,130],[-80,240],[-79,170],[-78,280],[-77,140],[-76,330],[-75,150],[-74,300],[-73,120],[-72,260],[-71,170],[-70,280],[-69,130],[-68,300],[-67,160],[-66,250],[-65,140],[-64,290],[-63,180],[-62,270],[-61,120],[-60,330],[-59,160],[-58,320],[-57,130],[-56,280],[-55,100],[-54,250],[-53,130],[-52,330],[-51,310],[-50,410],[-49,300],[-48,400],[-47,310],[-46,330],[-45,180],[-44,290],[-43,150],[-42,300],[-41,200],[-40,350],[-39,230],[-38,500],[-37,300],[-36,470],[-35,200],[-34,420],[-33,150],[-32,300],[-31,130],[-30,260],[-29,140],[-28,280],[-27,120],[-26,230],[-25,110],[-24,250],[-23,100],[-22,200],[-21,120],[-20,230],[-19,100],[-18,200],[-17,110],[-16,180],[-15,100],[-14,190],[-13,110],[-12,170],[-11,100],[-10,200],[-9,120],[-8,250],[-7,110],[-6,320],[-5,130],[-4,280],[-3,110],[-2,240],[-1,130],[0,200],[1,110],[2,230],[3,100],[4,210],[5,120],[6,180],[7,100],[8,200],[9,110],[10,190],[11,100],[12,210],[13,120],[14,190],[15,100],[16,180],[17,110],[18,200],[19,100],[20,170],[21,110],[22,210],[23,100],[24,190],[25,110],[26,220],[27,105],[28,200],[29,120],[30,220],[31,100],[32,210],[33,130],[34,230],[35,110],[36,200],[37,120],[38,230],[39,110],[40,220],[41,130],[42,250],[43,120],[44,240],[45,130],[46,260],[47,120],[48,250],[49,140],[50,230],[51,110],[52,250],[53,130],[54,240],[55,120],[56,260],[57,140],[58,340],[59,150],[60,320],[61,110],[62,280],[63,140],[64,260],[65,110],[66,250],[67,130],[68,270],[69,110],[70,240],[71,130],[72,290],[73,120],[74,250],[75,100],[76,230],[77,140],[78,270],[79,110],[80,260],[81,150],[82,290],[83,120],[84,260],[85,140],[86,280],[87,110],[88,290],[89,130],[90,250],[91,110],[92,230],[93,130],[94,250],[95,100],[96,220],[97,130],[98,280],[99,110],[100,300],[101,140],[102,260],[103,120],[104,230],[105,100],[106,250],[107,150],[108,300],[109,130],[110,350],[111,160],[112,380],[113,450],[114,200],[115,370],[116,140],[117,300],[118,120],[119,260],[120,150],[121,270],[122,110],[123,250],[124,140],[125,280],[126,110],[127,230],[128,150],[129,260],[130,100],[131,240],[132,130],[133,270],[134,110],[135,220],[136,140],[137,250],[138,120],[139,230],[140,150],[141,290],[142,120],[143,320],[144,160],[145,300],[146,130],[147,380],[148,180],[149,450],[150,200],[151,360],[152,150],[153,330],[154,400],[155,220],[156,310],[157,130],[158,250],[159,110],[160,230],[161,150],[162,260],[163,300],[164,140],[165,240],[166,110],[167,230],[168,140],[169,220],[170,100],[171,210],[172,130],[173,230],[174,110],[175,200],[176,140],[177,220],[178,100],[179,210],[180,130],[181,250],[182,110],[183,230],[184,140],[185,260],[186,120],[187,240],[188,100],[189,250],[190,140],[191,230],[192,110],[193,290],[194,150],[195,280],[196,130],[197,250],[198,100],[199,220],[200,130],[201,210],[202,100],[203,230],[204,120],[205,200],[206,110],[207,220],[208,100],[209,210],[210,130],[211,200],[212,100],[213,220],[214,120],[215,190],[216,100],[217,230],[218,110],[219,200],[220,130],[221,210],[222,100],[223,220],[224,140],[225,250],[226,300],[227,150],[228,230],[229,100],[230,180],[231,null],[233,130],[234,230],[235,110],[236,240],[237,150],[238,220],[239,100],[240,200],[241,120],[242,190],[243,100],[244,200],[245,110],[246,230],[247,100],[248,220],[249,120],[250,250],[251,110],[252,210],[253,100],[254,200],[255,120],[256,210],[257,100],[258,190],[259,120],[260,350],[261,420],[262,250],[263,470],[264,300],[265,420],[266,150],[267,280],[268,200],[269,380],[270,500],[271,350],[272,480],[273,250],[274,300],[275,120],[276,280],[277,100],[278,250],[279,150],[280,290],[281,110],[282,240],[283,130],[284,300],[285,150],[286,260],[287,110],[288,250],[289,140],[290,230],[291,100],[292,250],[293,130],[294,240],[295,110],[296,220],[297,140],[298,240],[299,100],[300,230],[301,130],[302,200],[303,100],[304,180],[305,110],[306,160],[307,100],[308,150],[309,110],[310,200],[311,100],[312,240],[313,130],[314,260],[315,110],[316,230],[317,150],[318,280],[319,120],[320,260],[321,140],[322,290],[323,110],[324,250],[325,160],[326,320],[327,150],[328,300],[329,120],[330,280],[331,170],[332,340],[333,150],[334,320],[335,180],[336,300],[337,130],[338,350],[339,160],[340,330],[341,140],[342,340],[343,170],[344,310],[345,130],[346,360],[347,200],[348,420],[349,150],[350,300],[351,110],[352,250],[353,100],[354,230],[355,120],[356,240],[357,100],[358,220],[359,130],[360,250],[361,100],[362,210]];
const airOutliers = [[193,525],[113,460],[149,455],[-38,490],[270,495],[348,430]];
const airSmooth = [[-155,180],[-140,165],[-124,155],[-104,153],[-90,165],[-72,200],[-60,225],[-48,243],[-40,243],[-24,210],[-10,175],[5,142],[15,128],[28,123],[45,140],[60,162],[84,200],[100,208],[124,204],[140,193],[157,179],[181,158],[198,152],[212,158],[228,175],[245,195],[260,210],[275,222],[292,231],[310,233],[325,233],[345,225],[362,213]];

// ---------------- BUILD ----------------
const X = p => p.map(d => d[0]);
const Y = p => p.map(d => d[1]);
const sfx = i => (i === 0 ? '' : String(i + 1));

const yCfg = [
  {range:[-0.045,1.055], tickvals:[0,0.2,0.4,0.6,0.8,1.0], fmt:'.1f', minor:0.1, m0:0},
  {range:[-0.045,1.055], tickvals:[0,0.2,0.4,0.6,0.8,1.0], fmt:'.1f', minor:0.1, m0:0},
  {range:[-1.3,31.7], tickvals:[0,10,20,30], fmt:'d', minor:5, m0:0},
  {range:[-13.5,262], tickvals:[0,50,100,150,200,250], fmt:'d', minor:25, m0:0},
  {range:[-0.16,3.14], tickvals:[0,0.5,1,1.5,2,2.5,3], fmt:'.1f', minor:0.25, m0:0},
  {range:[-450,10550], tickvals:[0,2500,5000,7500,10000], fmt:'d', minor:1250, m0:0},
  {range:[25.62,34.42], tickvals:[26,28,30,32,34], fmt:'d', minor:1, m0:26},
  {range:[5.415,7.61], tickvals:[5.5,6,6.5,7,7.5], fmt:'.1f', minor:0.25, m0:5.5},
  {range:[78,625], tickvals:[100,200,300,400,500,600], fmt:'d', minor:50, m0:100}
];

const W = 1274, HT = 934, ML = 76, MR = 17, MT = 14, MB = 75;
const PW = W - ML - MR, TOTAL = HT - MT - MB, PH = 87.8, GAP = (TOTAL - 9 * PH) / 8;
const px2x = px => (px - ML) / PW;
const px2y = py => (HT - MB - py) / TOTAL;

const layout = {
  width: W, height: HT,
  margin: {l: ML, r: MR, t: MT, b: MB, autoexpand: false},
  paper_bgcolor: '#ffffff', plot_bgcolor: '#ffffff',
  font: {family: 'Liberation Sans, Arial, sans-serif', color: '#4d4d4d', size: 13},
  showlegend: false,
  shapes: [], annotations: []
};

const phaseFill = ['rgba(150,150,150,0.22)', 'rgba(95,75,235,0.2)', 'rgba(110,160,240,0.11)', 'rgba(250,80,80,0.16)'];

for (let i = 0; i < 9; i++) {
  const s = sfx(i);
  const top = 1 - (i * (PH + GAP)) / TOTAL;
  const bot = top - PH / TOTAL;
  const c = yCfg[i];
  layout['xaxis' + s] = {
    domain: [0, 1], anchor: 'y' + s, range: [-180.6, 390.6],
    tickmode: 'array', tickvals: dayTicks, ticktext: dayTickLabels,
    showticklabels: i === 8, ticks: i === 8 ? 'outside' : '', ticklen: 3, tickcolor: '#4d4d4d',
    tickfont: {size: 13, color: '#4d4d4d'},
    showgrid: true, gridcolor: '#e2e2e2', gridwidth: 1,
    minor: {tick0: 0, dtick: 12.5, showgrid: true, gridcolor: '#efefef', gridwidth: 0.6},
    zeroline: false, showline: true, mirror: true, linecolor: '#8f8f8f', linewidth: 1
  };
  if (i !== 0) layout['xaxis' + s].matches = 'x';
  layout['yaxis' + s] = {
    domain: [bot, top], anchor: 'x' + s, range: c.range,
    tickmode: 'array', tickvals: c.tickvals, tickformat: c.fmt,
    ticks: 'outside', ticklen: 3, tickcolor: '#4d4d4d',
    tickfont: {size: 13, color: '#4d4d4d'},
    showgrid: true, gridcolor: '#e2e2e2', gridwidth: 1,
    minor: {tick0: c.m0, dtick: c.minor, showgrid: true, gridcolor: '#efefef', gridwidth: 0.6},
    zeroline: false, showline: true, mirror: true, linecolor: '#8f8f8f', linewidth: 1
  };
  for (let k = 0; k < 4; k++) {
    layout.shapes.push({type: 'rect', layer: 'below', xref: 'x' + s, yref: 'y' + s + ' domain',
      x0: phaseStart[k], x1: phaseEnd[k], y0: 0, y1: 1, fillcolor: phaseFill[k], line: {width: 0}});
  }
  layout.shapes.push({type: 'rect', layer: 'above', xref: 'paper', yref: 'y' + s + ' domain',
    x0: px2x(1257), x1: px2x(1290), y0: 0, y1: 1, fillcolor: '#d9d9d9', line: {color: '#8f8f8f', width: 1}});
  layout.annotations.push({xref: 'paper', yref: 'y' + s + ' domain', x: px2x(1266), y: 0.5,
    text: panelNames[i], textangle: 90, showarrow: false, xanchor: 'center', yanchor: 'middle',
    font: {size: 13, color: '#1a1a1a'}});
}

for (let k = 0; k < 4; k++) {
  layout.annotations.push({xref: 'x', yref: 'y', x: (phaseStart[k] + phaseEnd[k]) / 2, y: 0.945,
    text: phaseNames[k], showarrow: false, font: {size: 12, color: '#333333'}});
}
layout.annotations.push({xref: 'paper', yref: 'paper', x: px2x(22), y: px2y(437), xanchor: 'center', yanchor: 'middle',
  text: '<b>Hourly mean value</b>', textangle: -90, showarrow: false, font: {size: 15, color: '#000'}});
layout.annotations.push({xref: 'paper', yref: 'paper', x: px2x(667), y: px2y(889), xanchor: 'center', yanchor: 'middle',
  text: '<b>Day</b>', showarrow: false, font: {size: 15, color: '#000'}});

// legend (drawn manually so that it does not push the plot area)
const legendColors = ['#ff0000', '#000000'];
const legendDotPx = [611, 693];
const legendY = 923;
for (let k = 0; k < 2; k++) {
  layout.shapes.push({type: 'circle', xref: 'paper', yref: 'paper', xsizemode: 'pixel', ysizemode: 'pixel',
    xanchor: px2x(legendDotPx[k]), yanchor: px2y(legendY), x0: -3, x1: 3, y0: -3, y1: 3,
    fillcolor: legendColors[k], line: {width: 0}});
  layout.annotations.push({xref: 'paper', yref: 'paper', x: px2x(legendDotPx[k] + 12), y: px2y(legendY),
    xanchor: 'left', yanchor: 'middle', text: legendNames[k], showarrow: false, font: {size: 14, color: '#1a1a1a'}});
}

const traces = [];
const sensorColor = 'rgba(8,8,8,0.9)';
function sensor(pairs, i, w, ms) {
  const s = sfx(i);
  traces.push({type: 'scatter', mode: 'lines+markers', x: X(pairs), y: Y(pairs), xaxis: 'x' + s, yaxis: 'y' + s,
    line: {color: sensorColor, width: w}, marker: {color: sensorColor, size: ms}, hoverinfo: 'skip'});
}
function outl(pairs, i) {
  const s = sfx(i);
  traces.push({type: 'scatter', mode: 'markers', x: X(pairs), y: Y(pairs), xaxis: 'x' + s, yaxis: 'y' + s,
    marker: {color: 'rgba(0,0,0,0.6)', size: 5}, hoverinfo: 'skip'});
}
function lab(pairs, i) {
  const s = sfx(i);
  traces.push({type: 'scatter', mode: 'markers', x: X(pairs), y: Y(pairs), xaxis: 'x' + s, yaxis: 'y' + s,
    marker: {color: '#ff0000', size: 5.5}, hoverinfo: 'skip'});
}
function smooth(pairs, i) {
  const s = sfx(i);
  traces.push({type: 'scatter', mode: 'lines', x: X(pairs), y: Y(pairs), xaxis: 'x' + s, yaxis: 'y' + s,
    line: {color: '#3366FF', width: 2.2, shape: 'spline', smoothing: 1}, hoverinfo: 'skip'});
}

smooth(nlrSmooth, 0);
smooth(nrrSmooth, 1);
sensor(no2Sensor, 2, 5.5, 6.5); outl(no2Outliers, 2); lab(no2Lab, 2);
sensor(no3Sensor, 3, 5.5, 6.5); outl(no3Outliers, 3); lab(no3Lab, 3);
sensor(o2Sensor, 4, 5, 6); outl(o2Outliers, 4);
sensor(ssSensor, 5, 6, 6.5); outl(ssOutliers, 5); lab(ssLab, 5);
sensor(tempSensor, 6, 6, 6.5); outl(tempOutliers, 6);
sensor(phSensor, 7, 5, 6); outl(phOutliers, 7); lab(phLab, 7);
sensor(airSensor, 8, 3.2, 6); outl(airOutliers, 8);
smooth(airSmooth, 8);

Plotly.newPlot('chart', traces, layout, {displayModeBar: false, staticPlot: true});
</script>
</body>
</html>
